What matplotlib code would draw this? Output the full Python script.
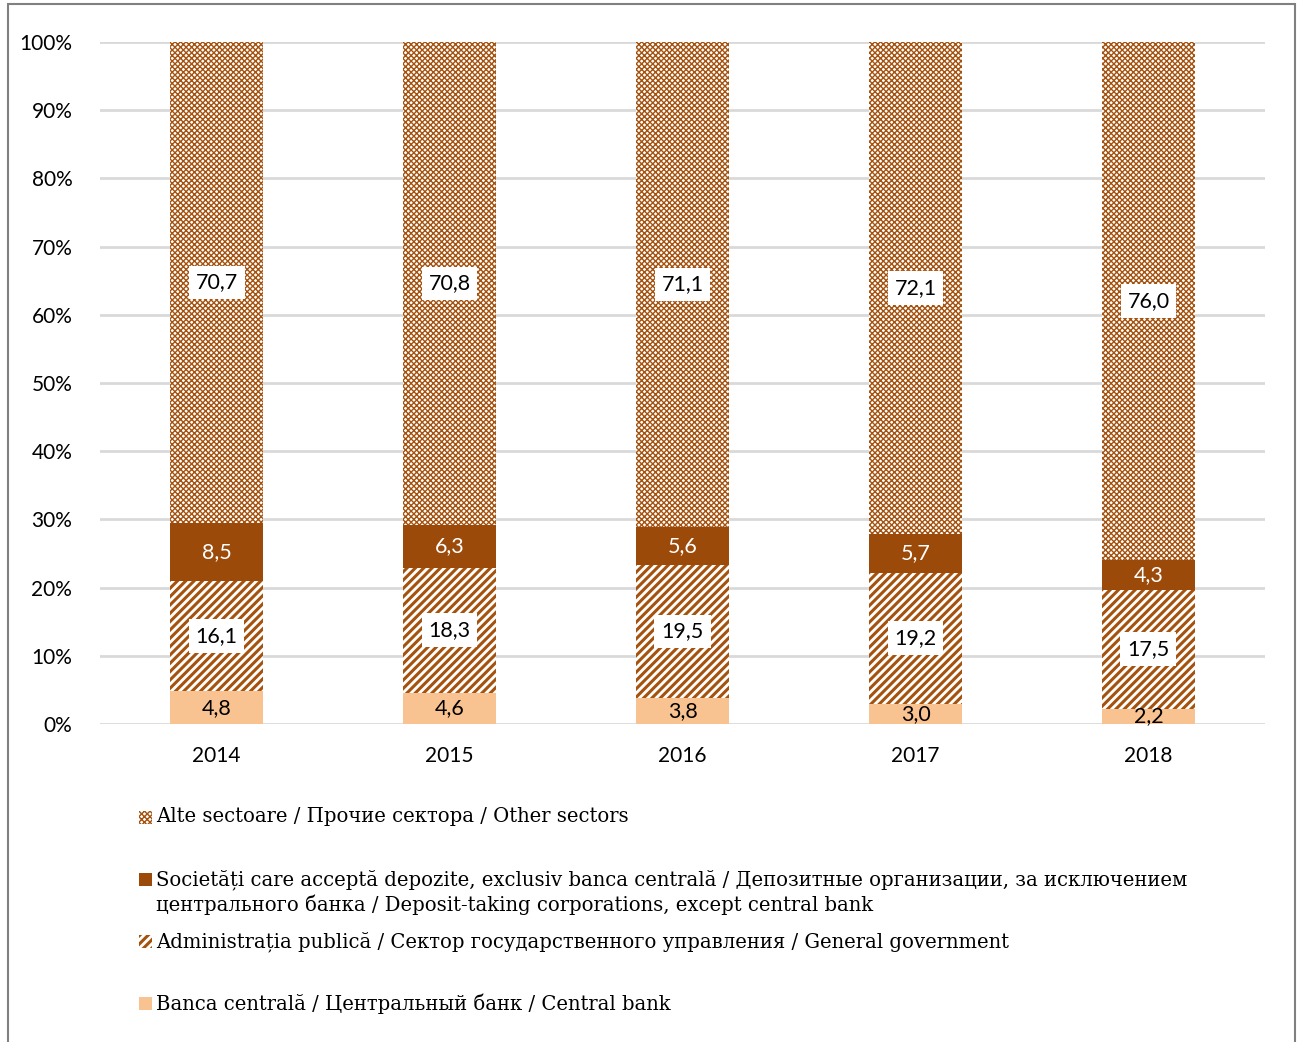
import matplotlib.pyplot as plt
from matplotlib.patches import Rectangle

years = ['2014', '2015', '2016', '2017', '2018']
central_bank = [4.8, 4.6, 3.8, 3.0, 2.2]
general_gov = [16.1, 18.3, 19.5, 19.2, 17.5]
deposit_corp = [8.5, 6.3, 5.6, 5.7, 4.3]
other_sectors = [70.7, 70.8, 71.1, 72.1, 76.0]

series_names = [
    'Banca centrală / Центральный банк / Central bank',
    'Administrația publică / Сектор государственного управления / General government',
    'Societăți care acceptă depozite, exclusiv banca centrală / Депозитные организации, за исключением\n'
    'центрального банка / Deposit-taking corporations, except central bank',
    'Alte sectoare / Прочие сектора / Other sectors',
]

BROWN = '#9C4A0A'
HATCH_BROWN = '#A5520F'
PEACH = '#F9C291'
GRID = '#D9D9D9'

plt.rcParams['hatch.linewidth'] = 2.2

fig = plt.figure(figsize=(13.01, 10.42), dpi=100)
ax = fig.add_axes([0.0769, 0.3052, 0.8954, 0.6545])

x = range(len(years))
width = 0.4
styles = [
    dict(color=PEACH, hatch=None, label_color='black', boxed=False),
    dict(color='white', hatch='////', label_color='black', boxed=True),
    dict(color=BROWN, hatch=None, label_color='white', boxed=False),
    dict(color='white', hatch='xxxxxx', label_color='black', boxed=True),
]
data = [central_bank, general_gov, deposit_corp, other_sectors]

bottom = [0.0] * len(years)
for vals, st in zip(data, styles):
    bars = ax.bar(x, vals, width, bottom=bottom, color=st['color'],
                  edgecolor=HATCH_BROWN if st['hatch'] else st['color'],
                  hatch=st['hatch'], linewidth=0, zorder=3)
    if st['hatch'] == 'xxxxxx':
        for b in bars:
            if hasattr(b, 'set_hatch_linewidth'):
                b.set_hatch_linewidth(1.0)
    for i, v in enumerate(vals):
        lbl = f'{v:.1f}'.replace('.', ',')
        kw = {}
        if st['boxed']:
            kw['bbox'] = dict(facecolor='white', edgecolor='none', pad=5)
        ax.text(i, bottom[i] + v / 2, lbl, ha='center', va='center',
                color=st['label_color'], fontsize=15.5, family='Lato', zorder=5, **kw)
    bottom = [b + v for b, v in zip(bottom, vals)]

ax.set_xlim(-0.5, 4.5)
ax.set_ylim(0, 100)
ax.set_yticks(range(0, 101, 10))
ax.set_yticklabels([f'{t}%' for t in range(0, 101, 10)], fontsize=15, family='Lato')
ax.set_xticks(list(x))
ax.set_xticklabels(years, fontsize=15, family='Lato')
ax.tick_params(axis='x', length=0, pad=16)
ax.tick_params(axis='y', length=0, pad=20)
ax.grid(axis='y', color=GRID, linewidth=2, zorder=0)
for s in ax.spines.values():
    s.set_visible(False)

# legend, drawn by hand to mimic the stacked layout
leg_items = [
    (series_names[3], 'white', 'xxxxxx', 818),
    (series_names[2], BROWN, None, 880),
    (series_names[1], 'white', '////', 942),
    (series_names[0], PEACH, None, 1004),
]
H = 1042.0
W = 1301.0
for text, fc, hatch, ypix in leg_items:
    p = Rectangle((139 / W, 1 - (ypix + 6) / H), 13 / W, 13 / H,
                  facecolor=fc, edgecolor=HATCH_BROWN if hatch else fc,
                  hatch=hatch, linewidth=0, transform=fig.transFigure)
    if hatch == 'xxxxxx' and hasattr(p, 'set_hatch_linewidth'):
        p.set_hatch_linewidth(1.0)
    fig.patches.append(p)
    fig.text(156 / W, 1 - (ypix - 11) / H, text, fontsize=14.1, family='DejaVu Serif',
             va='top', ha='left', linespacing=1.3)

fig.patches.append(Rectangle((8 / W, -0.01), 1287 / W, 1.01 - 4 / H, facecolor='none',
                             edgecolor='#808080', linewidth=1.5, transform=fig.transFigure))

fig.savefig('out.png', dpi=100)
